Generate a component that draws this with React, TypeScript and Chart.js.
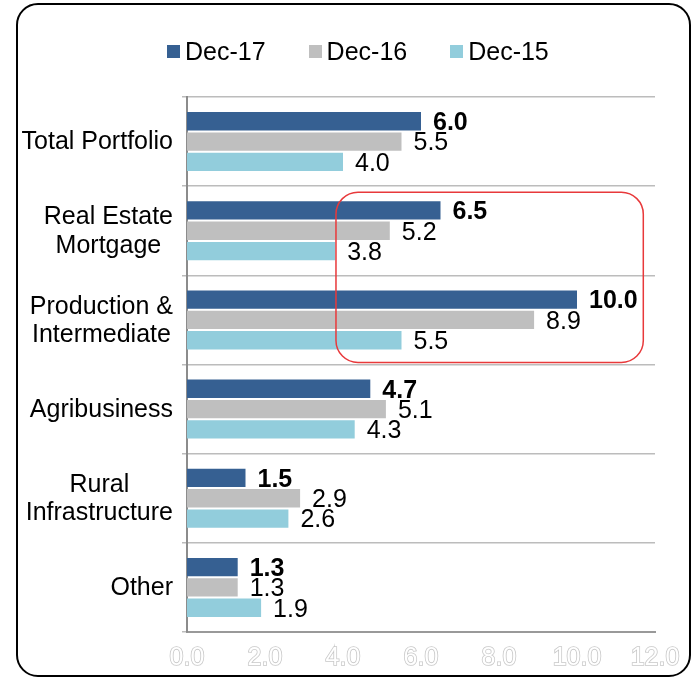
import React, { useEffect, useRef } from "react";
import { Chart, registerables } from "chart.js";

Chart.register(...registerables);

// ---- data ----
const categories: string[][] = [
  ["Total Portfolio"],
  ["Real Estate", "Mortgage"],
  ["Production &", "Intermediate"],
  ["Agribusiness"],
  ["Rural", "Infrastructure"],
  ["Other"],
];
const seriesNames = ["Dec-17", "Dec-16", "Dec-15"];
const dec17 = [6.0, 6.5, 10.0, 4.7, 1.5, 1.3];
const dec16 = [5.5, 5.2, 8.9, 5.1, 2.9, 1.3];
const dec15 = [4.0, 3.8, 5.5, 4.3, 2.6, 1.9];
const xMin = 0;
const xMax = 12;
const xStep = 2;

// highlight box (categories 1..2, value range)
const highlightCats = [1, 2];
const highlightRange = [3.82, 11.7];

// ---- styles ----
const FONT = '"Liberation Sans", Arial, sans-serif';
const FS = 25;
const colors = ["#366092", "#BFBFBF", "#92CDDC"];

const yLabelPlugin = {
  id: "yLabels",
  afterDraw(chart: any) {
    const ctx = chart.ctx;
    const y = chart.scales.y;
    ctx.save();
    ctx.font = `${FS}px ${FONT}`;
    ctx.fillStyle = "#000";
    ctx.textAlign = "center";
    ctx.textBaseline = "middle";
    const right = chart.chartArea.left - 14;
    const lh = 28.5;
    categories.forEach((lines, i) => {
      const cy = y.getPixelForValue(i);
      const widest = Math.max(...lines.map((l) => ctx.measureText(l).width));
      const cx = right - widest / 2;
      lines.forEach((l, k) => {
        ctx.fillText(l, cx, cy + (k - (lines.length - 1) / 2) * lh + 1);
      });
    });
    ctx.restore();
  },
};

const valueLabelPlugin = {
  id: "valueLabels",
  afterDatasetsDraw(chart: any) {
    const ctx = chart.ctx;
    ctx.save();
    ctx.fillStyle = "#000";
    ctx.textAlign = "left";
    ctx.textBaseline = "middle";
    chart.data.datasets.forEach((ds: any, i: number) => {
      const meta = chart.getDatasetMeta(i);
      ctx.font = `${i === 0 ? "bold " : ""}${FS}px ${FONT}`;
      meta.data.forEach((bar: any, j: number) => {
        const { x, y } = bar.getProps(["x", "y"], true);
        ctx.fillText(Number(ds.data[j]).toFixed(1), x + 12, y + 2);
      });
    });
    ctx.restore();
  },
};

const highlightPlugin = {
  id: "highlight",
  afterDatasetsDraw(chart: any) {
    const ctx = chart.ctx;
    const xs = chart.scales.x;
    const ys = chart.scales.y;
    const half = (ys.getPixelForValue(1) - ys.getPixelForValue(0)) / 2;
    const x1 = xs.getPixelForValue(highlightRange[0]);
    const x2 = xs.getPixelForValue(highlightRange[1]);
    const y1 = ys.getPixelForValue(highlightCats[0]) - half + 6;
    const y2 = ys.getPixelForValue(highlightCats[1]) + half - 2;
    ctx.save();
    ctx.strokeStyle = "#E8393B";
    ctx.lineWidth = 1.5;
    ctx.beginPath();
    ctx.roundRect(x1, y1, x2 - x1, y2 - y1, 22);
    ctx.stroke();
    ctx.restore();
  },
};

export default function App() {
  const ref = useRef<HTMLCanvasElement | null>(null);

  useEffect(() => {
    if (!ref.current) return;
    const chart = new Chart(ref.current, {
      type: "bar",
      data: {
        labels: categories.map((c) => c.join(" ")),
        datasets: [dec17, dec16, dec15].map((d, i) => ({
          label: seriesNames[i],
          data: d,
          backgroundColor: colors[i],
          borderWidth: 0,
          barPercentage: 0.9,
          categoryPercentage: 0.684,
        })),
      },
      options: {
        indexAxis: "y",
        responsive: false,
        animation: false,
        layout: { padding: { top: 97, right: 42, left: 0, bottom: 0 } },
        plugins: { legend: { display: false }, tooltip: { enabled: false } },
        scales: {
          x: {
            min: xMin,
            max: xMax,
            ticks: {
              stepSize: xStep,
              callback: (v: any) => Number(v).toFixed(1),
              font: { family: FONT, size: FS },
              color: "#ffffff",
              textStrokeColor: "#c8c8c8",
              textStrokeWidth: 1.6,
              padding: 11,
              maxRotation: 0,
              autoSkip: false,
            } as any,
            grid: { display: false, drawTicks: false },
            border: { display: true, color: "#999999", width: 2 },
            afterFit: (s: any) => {
              s.height = 46;
            },
          },
          y: {
            ticks: { display: false },
            grid: {
              color: "#bcbcbc",
              lineWidth: 1.5,
              tickLength: 5,
              offset: true,
              drawTicks: true,
            },
            border: { display: true, color: "#8c8c8c", width: 2 },
            afterFit: (s: any) => {
              s.width = 187;
            },
          },
        },
      },
      plugins: [yLabelPlugin, valueLabelPlugin, highlightPlugin],
    });
    return () => chart.destroy();
  }, []);

  return (
    <div
      style={{
        position: "fixed",
        left: 0,
        top: 0,
        width: 697,
        height: 678,
        overflow: "hidden",
        background: "#fff",
      }}
    >
      <div
        style={{
          position: "absolute",
          left: 16,
          top: 3,
          width: 671,
          height: 670,
          border: "2px solid #000",
          borderRadius: 22,
        }}
      />
      <canvas
        ref={ref}
        width={697}
        height={678}
        style={{ position: "absolute", left: 0, top: 0, width: 697, height: 678 }}
      />
      <div
        style={{
          position: "absolute",
          left: 167,
          top: 37,
          display: "flex",
          alignItems: "center",
          fontFamily: FONT,
          fontSize: FS,
          lineHeight: "28px",
          color: "#000",
          whiteSpace: "nowrap",
        }}
      >
        {seriesNames.map((n, i) => (
          <div
            key={n}
            style={{
              display: "flex",
              alignItems: "center",
              marginRight: i < seriesNames.length - 1 ? 43 : 0,
            }}
          >
            <span
              style={{
                display: "inline-block",
                width: 13,
                height: 13,
                background: colors[i],
                marginRight: 5,
              }}
            />
            <span>{n}</span>
          </div>
        ))}
      </div>
    </div>
  );
}
